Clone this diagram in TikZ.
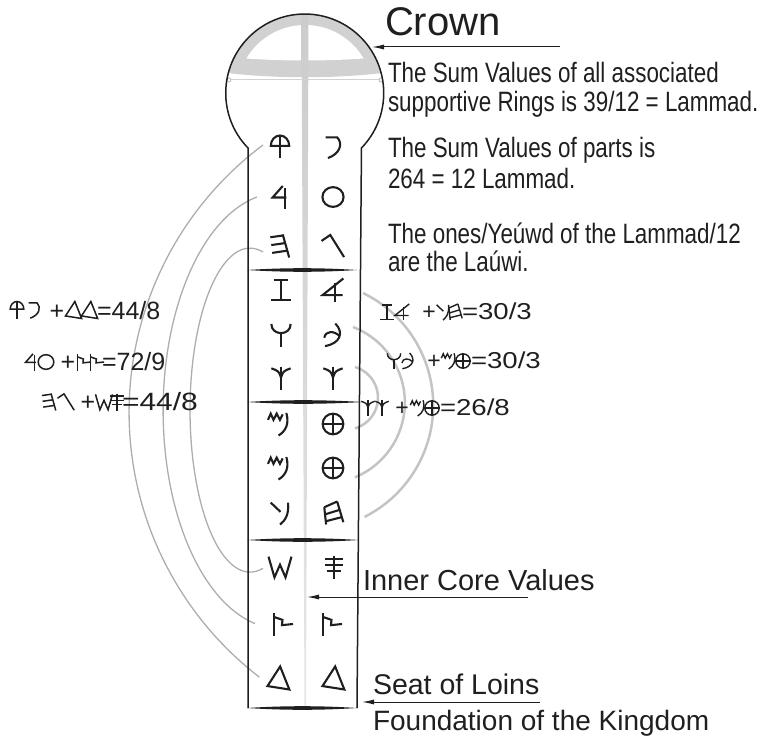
\documentclass[tikz,border=0pt]{standalone}
\usepackage{fontspec}
\usepackage{graphicx}
\setmainfont{Liberation Sans}
\newfontfamily\narrowfont{Liberation Sans}[FakeStretch=0.80]
\usetikzlibrary{arrows.meta}
\definecolor{capgray}{gray}{0.82}
\definecolor{barTop}{gray}{0.80}
\definecolor{barBot}{gray}{0.90}
\definecolor{arcL}{gray}{0.68}
\definecolor{arcR}{gray}{0.77}
\definecolor{ink}{gray}{0.12}
\tikzset{
  txt/.style={anchor=base west, inner sep=0pt, outer sep=0pt, text=ink},
  plus/.style={anchor=base, inner sep=0pt, outer sep=0pt, text=ink},
  cg/.style={scale=23, line width=2.1pt, draw=ink},
  fgl/.style={scale=17, line width=1.5pt, draw=ink},
  fgr/.style={scale=16, line width=1.4pt, draw=ink},
  arr/.style={-{Latex[length=12pt,width=5pt]}, line width=1pt, draw=ink},
  larc/.style={draw=arcL, line width=1.3pt},
  rarc/.style={draw=arcR, line width=2.5pt},
  gQ/.pic={\draw (-0.4,-0.05) arc[start angle=180,end angle=360,x radius=0.4,y radius=0.45] -- cycle; \draw (0,-0.5) -- (0,0.5);},
  gG/.pic={\draw (-0.32,-0.42) -- (0.18,-0.42) .. controls (0.45,-0.15) and (0.3,0.3) .. (-0.22,0.48);},
  gN/.pic={\draw (0.12,-0.48) -- (-0.32,0.02) -- (0.28,0.02); \draw (0.2,-0.4) -- (0.2,0.5);},
  gO/.pic={\draw (0,0) circle[x radius=0.46,y radius=0.43];},
  gH/.pic={\draw (0.12,-0.5) -- (0.4,0.5); \draw (-0.42,-0.38) -- (0.15,-0.46); \draw (-0.38,-0.04) -- (0.24,-0.13); \draw (-0.34,0.3) -- (0.33,0.2);},
  gL/.pic={\draw (-0.5,-0.22) -- (-0.12,-0.48) -- (0.48,0.48);},
  gZ/.pic={\draw (-0.32,-0.45) -- (0.32,-0.45); \draw (0,-0.45) -- (0,0.45); \draw (-0.45,0.45) -- (0.45,0.45);},
  gK/.pic={\draw (0.45,-0.5) -- (-0.45,0.22) -- (0.42,0.22); \draw (0.1,-0.32) -- (0.1,0.5);},
  gW/.pic={\draw (-0.42,-0.48) .. controls (-0.42,0.05) and (0.42,0.05) .. (0.42,-0.48); \draw (0,-0.08) -- (0,0.5);},
  gP/.pic={\draw (0.1,-0.5) .. controls (0.5,-0.1) and (0.3,0.38) .. (-0.35,0.48); \draw (-0.38,0.12) .. controls (-0.32,-0.2) and (0.05,-0.2) .. (0.3,0.06);},
  gT/.pic={\draw (0,-0.5) -- (0,0.5); \draw (-0.42,-0.42) .. controls (-0.1,-0.3) .. (0,-0.02) .. controls (0.1,-0.3) .. (0.42,-0.42);},
  gM/.pic={\draw (-0.48,-0.18) -- (-0.36,-0.45) -- (-0.24,-0.18) -- (-0.1,-0.45) -- (0.04,-0.18) -- (0.16,-0.42); \draw (0.32,-0.48) .. controls (0.45,0.0) and (0.3,0.3) .. (-0.02,0.5);},
  gX/.pic={\draw (0,0) circle[radius=0.45]; \draw (-0.45,0) -- (0.45,0); \draw (0,-0.45) -- (0,0.45);},
  gY/.pic={\draw (-0.4,-0.45) -- (0.02,-0.05); \draw (0.35,-0.45) .. controls (0.4,0.1) and (0.2,0.35) .. (0.0,0.5);},
  gE/.pic={\draw (-0.38,-0.25) -- (-0.3,0.5); \draw (0.18,-0.5) -- (0.45,0.4); \draw (-0.38,-0.25) -- (0.18,-0.5); \draw (-0.35,0.06) -- (0.3,-0.14); \draw (-0.32,0.36) -- (0.38,0.18);},
  gS/.pic={\draw (-0.5,-0.45) -- (-0.24,0.45) -- (0,-0.1) -- (0.24,0.45) -- (0.5,-0.45);},
  gC/.pic={\draw (0,-0.5) -- (0,0.5); \draw (-0.4,-0.36) -- (0.4,-0.36); \draw (-0.4,-0.1) -- (0.4,-0.1); \draw (-0.32,0.16) -- (0.32,0.16);},
  gR/.pic={\draw (-0.33,-0.5) -- (-0.33,0.5); \draw (-0.33,-0.3) -- (0.02,-0.18) -- (0.0,0.05) -- (0.48,0.0);},
  gD/.pic={\draw (0.05,-0.5) -- (-0.5,0.35) -- (0.45,0.5) -- cycle;}
}
\begin{document}
\begin{tikzpicture}[x=1pt,y=-1pt]
\useasboundingbox (0,0) rectangle (762,738);
% crown cap
\begin{scope}
  \clip (305,93) circle[radius=79];
  \fill[capgray] (220,0) -- (390,0) -- (390,72) .. controls (340,79) and (270,79) .. (220,72) -- cycle;
\end{scope}
\begin{scope}
  \clip (305,93) circle[radius=68];
  \fill[white] (220,0) -- (390,0) -- (390,56) .. controls (340,62) and (270,62) .. (220,56) -- cycle;
\end{scope}
% central bar
\shade[top color=barTop, bottom color=barBot] (301.5,14) -- (308.5,14) -- (306,706) -- (304.5,706) -- cycle;
% thin line in crown
\draw[gray!35, line width=1pt] (229,80) -- (381,80);
\draw[gray!70, line width=0.6pt, fill=white] (229,80) circle[radius=2];
\draw[gray!70, line width=0.6pt, fill=white] (381,80) circle[radius=2];
% left arcs
\draw[larc] (263,145) arc[start angle=233.2,end angle=127.6,radius=334];
\draw[larc] (257,197) arc[start angle=258.6,end angle=102.4,x radius=117,y radius=218];
\draw[larc] (263,252) arc[start angle=282.5,end angle=77.5,x radius=60,y radius=162];
% right arcs
\draw[rarc] (363,293) arc[start angle=-64,end angle=63.2,radius=125];
\draw[rarc] (353,327) arc[start angle=-68.9,end angle=67.5,radius=81];
\draw[rarc] (355,367) arc[start angle=-73.6,end angle=73.6,radius=32];
% outline
\draw[ink, line width=1.5pt] (248,708) -- (248,148) arc[start angle=135.9,end angle=404.1,radius=79] -- (357,708);
% separators (thin lens shapes)
\foreach \yy/\xe in {270/357, 402/363, 540/359, 708/357}{
  \fill[ink] (247,\yy) .. controls (285,\yy-2.4) and (320,\yy-2.4) .. (\xe,\yy)
     .. controls (320,\yy+2.4) and (285,\yy+2.4) .. (247,\yy) -- cycle;
}
% column glyphs
\pic[cg] at (280,147) {gQ};  \pic[cg] at (333,147) {gG};
\pic[cg] at (280,197) {gN};  \pic[cg] at (333,197) {gO};
\pic[cg] at (280,246) {gH};  \pic[cg] at (333,246) {gL};
\pic[cg] at (281,290) {gZ};  \pic[cg] at (333,290) {gK};
\pic[cg] at (281,335) {gW};  \pic[cg] at (333,335) {gP};
\pic[cg] at (281,378) {gT};  \pic[cg] at (333,378) {gT};
\pic[cg] at (279,424) {gM};  \pic[cg] at (333,424) {gX};
\pic[cg] at (279,468) {gM};  \pic[cg] at (333,468) {gX};
\pic[cg] at (280,513) {gY};  \pic[cg] at (333,513) {gE};
\pic[cg] at (280,567) {gS};  \pic[cg] at (334,567) {gC};
\pic[cg] at (282,624) {gR};  \pic[cg] at (331,624) {gR};
\pic[cg] at (279,678) {gD};  \pic[cg] at (334,678) {gD};
% left formulas
\pic[fgl] at (17,310) {gQ}; \pic[fgl] at (34,310) {gG};
\node[plus, font=\fontsize{25}{26}\selectfont] (lp1) at (57,319) {+};
\pic[fgl] at (74,310) {gD}; \pic[fgl] at (90,310) {gD};
\node[txt, font=\fontsize{25}{26}\selectfont] (lf1) at (97,319) {=44/8};
\pic[fgl] at (31,362) {gN}; \pic[fgl] at (46,362) {gO};
\node[plus, font=\fontsize{25}{26}\selectfont] (lp2) at (68,370) {+};
\pic[fgl] at (83,362) {gR}; \pic[fgl] at (96,362) {gR};
\node[txt, font=\fontsize{25}{26}\selectfont] (lf2) at (102,370) {=72/9};
\pic[fgl] at (49,402) {gH}; \pic[fgl] at (66,402) {gL};
\node[plus, font=\fontsize{25}{26}\selectfont] (lp3) at (88,410) {+};
\pic[fgl] at (104,402) {gS}; \pic[fgl] at (117,402) {gC};
\node[txt, font=\fontsize{25}{26}\selectfont] (lf3) at (122,410) {\scalebox{1.2}[1]{=44/8}};
% right formulas
\pic[fgr] at (387,312) {gZ}; \pic[fgr] at (402,312) {gK};
\node[plus, font=\fontsize{23}{24}\selectfont] (rp1) at (429,319) {+};
\pic[fgr] at (443,312) {gY}; \pic[fgr] at (455,312) {gE};
\node[txt, font=\fontsize{23}{24}\selectfont] (rf1) at (462,319) {\scalebox{1.2}[1]{=30/3}};
\pic[fgr] at (394,361) {gW}; \pic[fgr] at (408,361) {gP};
\node[plus, font=\fontsize{23}{24}\selectfont] (rp2) at (434,368) {+};
\pic[fgr] at (449,361) {gM}; \pic[fgr] at (463,361) {gX};
\node[txt, font=\fontsize{23}{24}\selectfont] (rf2) at (471,368) {\scalebox{1.2}[1]{=30/3}};
\pic[fgr] at (368,408) {gT}; \pic[fgr] at (382,408) {gT};
\node[plus, font=\fontsize{23}{24}\selectfont] (rp3) at (402,415) {+};
\pic[fgr] at (418,408) {gM}; \pic[fgr] at (432,408) {gX};
\node[txt, font=\fontsize{23}{24}\selectfont] (rf3) at (440,415) {\scalebox{1.2}[1]{=26/8}};
% texts
\node[txt, font=\fontsize{40}{42}\selectfont] (crown) at (385,36) {Crown};
\node[txt, font=\narrowfont\fontsize{28}{29}\selectfont] (s1a) at (388,83) {The Sum Values of all associated};
\node[txt, font=\narrowfont\fontsize{28}{29}\selectfont] (s1b) at (388,112) {supportive Rings is 39/12 = Lammad.};
\node[txt, font=\narrowfont\fontsize{28}{29}\selectfont] (s2a) at (388,158) {The Sum Values of parts is};
\node[txt, font=\narrowfont\fontsize{28}{29}\selectfont] (s2b) at (388,188) {264 = 12 Lammad.};
\node[txt, font=\narrowfont\fontsize{28}{29}\selectfont] (s3a) at (388,243) {The ones/Yeúwd of the Lammad/12};
\node[txt, font=\narrowfont\fontsize{28}{29}\selectfont] (s3b) at (388,271) {are the Laúwi.};
\node[txt, font=\fontsize{29}{30}\selectfont] (inner) at (363,590) {Inner Core Values};
\node[txt, font=\fontsize{28.5}{30}\selectfont] (seat) at (373,694) {Seat of Loins};
\node[txt, font=\fontsize{28}{30}\selectfont] (found) at (373,730) {Foundation of the Kingdom};
% arrows
\coordinate (crownTail) at (560,47); \coordinate (crownTip) at (372,47);
\coordinate (innerTail) at (528,597); \coordinate (innerTip) at (307,597);
\coordinate (seatTail) at (540,702); \coordinate (seatTip) at (362,702);
\draw[arr] (crownTail) -- (crownTip);
\draw[arr] (innerTail) -- (innerTip);
\draw[arr] (seatTail) -- (seatTip);
\end{tikzpicture}
\end{document}
